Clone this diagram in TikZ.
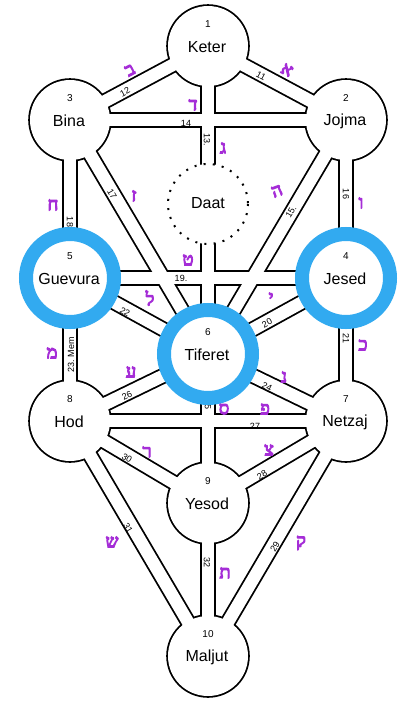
\documentclass[tikz,border=0pt]{standalone}
\usepackage{fontspec}
\setmainfont{Liberation Sans}
\newfontfamily\hebfont[Script=Hebrew, AutoFakeBold=6]{Liberation Serif}
\usetikzlibrary{calc}
\definecolor{ringblue}{RGB}{50,170,240}
\definecolor{letterpurple}{RGB}{165,45,215}
\begin{document}
\begin{tikzpicture}[x=1pt,y=-1pt,
  sefname/.style={font=\fontsize{16}{16}\selectfont, inner sep=0pt},
  sefnum/.style={font=\fontsize{10}{10}\selectfont, inner sep=0pt},
  pathnum/.style={font=\fontsize{9}{9}\selectfont, inner sep=0pt},
  hebletter/.style={font=\hebfont\bfseries\fontsize{18}{18}\selectfont, text=letterpurple, inner sep=0pt},
  outerline/.style={line width=16pt, black},
  innerline/.style={line width=12.4pt, white},
  bluering/.style={line width=14pt, ringblue},
  daatstyle/.style={fill=white, draw=black, line width=2pt, dash pattern=on 2pt off 7.2pt}]
\useasboundingbox (0,0) rectangle (415,710);
\fill[white] (0,0) rectangle (415,710);
% sephirot centres
\coordinate (keter) at (208,46);
\coordinate (jojma) at (346,120);
\coordinate (bina) at (70,120);
\coordinate (daat) at (208,204);
\coordinate (jesed) at (346,278);
\coordinate (guevura) at (70,278);
\coordinate (tiferet) at (208,354);
\coordinate (netzaj) at (346,421);
\coordinate (hod) at (70,421);
\coordinate (yesod) at (208,503);
\coordinate (maljut) at (208,656);
% outer (black) layer
\foreach \a/\b in {keter/bina,keter/jojma,keter/tiferet,bina/jojma,bina/guevura,bina/tiferet,jojma/jesed,jojma/tiferet,guevura/jesed,guevura/tiferet,jesed/tiferet,guevura/hod,jesed/netzaj,hod/tiferet,netzaj/tiferet,tiferet/yesod,hod/netzaj,hod/yesod,netzaj/yesod,hod/maljut,netzaj/maljut,yesod/maljut}
  \draw[outerline] (\a) -- (\b);
\foreach \s in {keter,jojma,bina,jesed,guevura,tiferet,netzaj,hod,yesod,maljut}
  \fill[black] (\s) circle (41.8);
% inner (white) layer
\foreach \a/\b in {keter/bina,keter/jojma,keter/tiferet,bina/jojma,bina/guevura,bina/tiferet,jojma/jesed,jojma/tiferet,guevura/jesed,guevura/tiferet,jesed/tiferet,guevura/hod,jesed/netzaj,hod/tiferet,netzaj/tiferet,tiferet/yesod,hod/netzaj,hod/yesod,netzaj/yesod,hod/maljut,netzaj/maljut,yesod/maljut}
  \draw[innerline] (\a) -- (\b);
\foreach \s in {keter,jojma,bina,jesed,guevura,tiferet,netzaj,hod,yesod,maljut}
  \fill[white] (\s) circle (40);
% Daat
\draw[daatstyle] (daat) circle (40);
% sephirot labels
\foreach \s/\n/\t in {keter/1/Keter,jojma/2/Jojma,bina/3/Bina,jesed/4/Jesed,guevura/5/Guevura,tiferet/6/Tiferet,netzaj/7/Netzaj,hod/8/Hod,yesod/9/Yesod,maljut/10/Maljut}{
  \node[sefname] (name-\s) at ($(\s)+(-1,1)$) {\t};
  \node[sefnum] (num-\s) at ($(\s)+(0,-22)$) {\n};
}
\node[sefname] (name-daat) at ($(daat)+(0,-1)$) {Daat};
% path numbers
\node[pathnum, rotate=-28] (p11) at (261,76) {11};
\node[pathnum, rotate=28] (p12) at (125,92) {12};
\node[pathnum, rotate=-90] (p13) at (207,140) {13.};
\node[pathnum] (p14) at (186,123) {14};
\node[pathnum, rotate=59.5] (p15) at (291,212) {15.};
\node[pathnum, rotate=-90] (p16) at (346,194) {16};
\node[pathnum, rotate=-59.5] (p17) at (112,194) {17};
\node[pathnum, rotate=-90] (p18) at (70,222) {18};
\node[pathnum] (p19) at (181,278) {19.};
\node[pathnum, rotate=29] (p20) at (267,323) {20};
\node[pathnum, rotate=-90] (p21) at (346,338) {21};
\node[pathnum, rotate=-29] (p22) at (125,312) {22};
\node[pathnum, rotate=90] (p23) at (71,355) {23. Mem};
\node[pathnum, rotate=-26] (p24) at (267,387) {24};
\node[pathnum, rotate=-90] (p25) at (208,404) {25};
\node[pathnum, rotate=26] (p26) at (127,396) {26};
\node[pathnum] (p27) at (255,426) {27};
\node[pathnum, rotate=31] (p28) at (262,475) {28};
\node[pathnum, rotate=59.6] (p29) at (275,547) {29};
\node[pathnum, rotate=-31] (p30) at (127,458) {30};
\node[pathnum, rotate=-59.6] (p31) at (128,528) {31};
\node[pathnum, rotate=-90] (p32) at (207,562) {32};
% Hebrew letters
\node[hebletter, rotate=-28] (h11) at (287,70) {א};
\node[hebletter, rotate=28] (h12) at (130,70) {ב};
\node[hebletter] (h13) at (223,148) {ג};
\node[hebletter] (h14) at (193,105) {ד};
\node[hebletter, rotate=20] (h15) at (277,191) {ה};
\node[hebletter] (h16) at (361,203) {ו};
\node[hebletter] (h17) at (134,196) {ז};
\node[hebletter] (h18) at (53,205) {ח};
\node[hebletter] (h19) at (188,260) {ט};
\node[hebletter] (h20) at (271,298) {י};
\node[hebletter] (h21) at (363,345) {כ};
\node[hebletter] (h22) at (150,298) {ל};
\node[hebletter] (h23) at (52,353) {מ};
\node[hebletter] (h24) at (284,377) {נ};
\node[hebletter] (h25) at (224,409) {ס};
\node[hebletter] (h26) at (131,372) {ע};
\node[hebletter] (h27) at (265,409) {פ};
\node[hebletter] (h28) at (269,450) {צ};
\node[hebletter] (h29) at (301,543) {ק};
\node[hebletter] (h30) at (147,452) {ר};
\node[hebletter] (h31) at (112,542) {ש};
\node[hebletter] (h32) at (225,573) {ת};
% blue rings
\foreach \s in {guevura,jesed,tiferet}
  \draw[bluering] (\s) circle (44);
\end{tikzpicture}
\end{document}
